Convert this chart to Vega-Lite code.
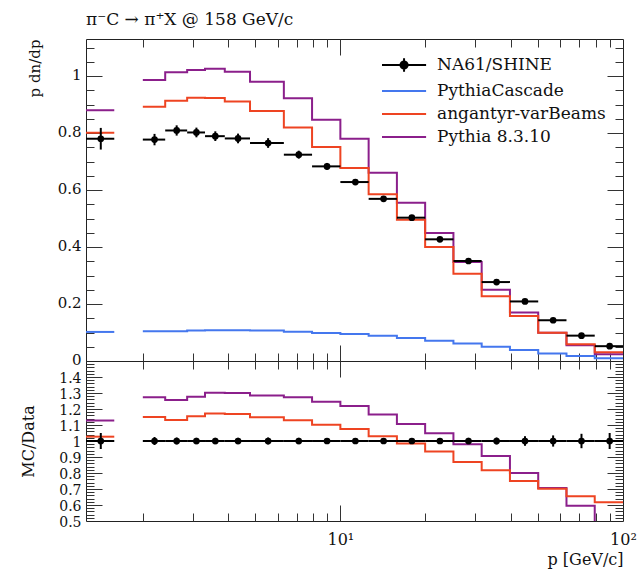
{
  "$schema": "https://vega.github.io/schema/vega-lite/v6.json",
  "padding": {"left": 19, "top": 10, "right": 2, "bottom": 2},
  "spacing": 0,
  "bounds": "flush",
  "config": {
    "font": "DejaVu Serif",
    "view": {"stroke": "#222", "strokeWidth": 1},
    "axis": {"domain": false, "grid": false, "labelFont": "DejaVu Serif", "labelFontSize": 15, "labelColor": "#111", "tickColor": "#333", "tickWidth": 1, "titleFont": "DejaVu Serif", "titleFontSize": 16, "titleFontWeight": "normal", "titleColor": "#111"},
    "legend": {
      "orient": "none", "legendX": 295, "legendY": 16, "title": null, "padding": 0,
      "labelFont": "DejaVu Serif", "labelFontSize": 17, "labelColor": "#111", "labelOffset": 36, "labelLimit": 400,
      "symbolSize": 324, "symbolStrokeWidth": 2, "rowPadding": 5, "symbolOpacity": 1
    }
  },
  "datasets": {
    "bins": [
      {"p": 1.42, "lo": 1.2589, "hi": 1.585, "v": 0.780, "vlo": 0.742, "vhi": 0.818, "r": 1, "rlo": 0.95, "rhi": 1.05},
      {"p": 2.2, "lo": 2.0, "hi": 2.4, "v": 0.777, "vlo": 0.757, "vhi": 0.797, "r": 1, "rlo": 0.975, "rhi": 1.025},
      {"p": 2.635, "lo": 2.4, "hi": 2.87, "v": 0.809, "vlo": 0.791, "vhi": 0.827, "r": 1, "rlo": 0.978, "rhi": 1.022},
      {"p": 3.095, "lo": 2.87, "hi": 3.32, "v": 0.802, "vlo": 0.785, "vhi": 0.819, "r": 1, "rlo": 0.98, "rhi": 1.02},
      {"p": 3.61, "lo": 3.32, "hi": 3.9, "v": 0.789, "vlo": 0.772, "vhi": 0.806, "r": 1, "rlo": 0.98, "rhi": 1.02},
      {"p": 4.345, "lo": 3.9, "hi": 4.79, "v": 0.781, "vlo": 0.764, "vhi": 0.798, "r": 1, "rlo": 0.98, "rhi": 1.02},
      {"p": 5.55, "lo": 4.79, "hi": 6.31, "v": 0.765, "vlo": 0.748, "vhi": 0.782, "r": 1, "rlo": 0.978, "rhi": 1.022},
      {"p": 7.125, "lo": 6.31, "hi": 7.94, "v": 0.724, "vlo": 0.710, "vhi": 0.738, "r": 1, "rlo": 0.98, "rhi": 1.02},
      {"p": 8.97, "lo": 7.94, "hi": 10, "v": 0.683, "vlo": 0.671, "vhi": 0.695, "r": 1, "rlo": 0.983, "rhi": 1.017},
      {"p": 11.3, "lo": 10, "hi": 12.59, "v": 0.628, "vlo": 0.618, "vhi": 0.638, "r": 1, "rlo": 0.984, "rhi": 1.016},
      {"p": 14.22, "lo": 12.59, "hi": 15.85, "v": 0.569, "vlo": 0.560, "vhi": 0.578, "r": 1, "rlo": 0.984, "rhi": 1.016},
      {"p": 17.9, "lo": 15.85, "hi": 19.95, "v": 0.503, "vlo": 0.495, "vhi": 0.511, "r": 1, "rlo": 0.984, "rhi": 1.016},
      {"p": 22.5, "lo": 19.95, "hi": 25.12, "v": 0.427, "vlo": 0.420, "vhi": 0.434, "r": 1, "rlo": 0.982, "rhi": 1.018},
      {"p": 28.4, "lo": 25.12, "hi": 31.62, "v": 0.351, "vlo": 0.345, "vhi": 0.357, "r": 1, "rlo": 0.98, "rhi": 1.02},
      {"p": 35.7, "lo": 31.62, "hi": 39.81, "v": 0.277, "vlo": 0.271, "vhi": 0.283, "r": 1, "rlo": 0.978, "rhi": 1.022},
      {"p": 45.0, "lo": 39.81, "hi": 50.12, "v": 0.209, "vlo": 0.203, "vhi": 0.215, "r": 1, "rlo": 0.97, "rhi": 1.03},
      {"p": 56.6, "lo": 50.12, "hi": 63.1, "v": 0.143, "vlo": 0.138, "vhi": 0.148, "r": 1, "rlo": 0.965, "rhi": 1.035},
      {"p": 71.3, "lo": 63.1, "hi": 79.43, "v": 0.089, "vlo": 0.085, "vhi": 0.093, "r": 1, "rlo": 0.955, "rhi": 1.045},
      {"p": 89.7, "lo": 79.43, "hi": 100, "v": 0.052, "vlo": 0.049, "vhi": 0.055, "r": 1, "rlo": 0.95, "rhi": 1.05}
    ],
    "mc": [
      {"s": "Pythia 8.3.10", "g": "a", "p": 1.2589, "v": 0.880, "r": 1.128},
      {"s": "Pythia 8.3.10", "g": "a", "p": 1.585, "v": 0.880, "r": 1.128},
      {"s": "Pythia 8.3.10", "g": "b", "p": 2.0, "v": 0.986, "r": 1.273},
      {"s": "Pythia 8.3.10", "g": "b", "p": 2.4, "v": 1.013, "r": 1.256},
      {"s": "Pythia 8.3.10", "g": "b", "p": 2.87, "v": 1.021, "r": 1.277},
      {"s": "Pythia 8.3.10", "g": "b", "p": 3.32, "v": 1.026, "r": 1.302},
      {"s": "Pythia 8.3.10", "g": "b", "p": 3.9, "v": 1.015, "r": 1.300},
      {"s": "Pythia 8.3.10", "g": "b", "p": 4.79, "v": 0.980, "r": 1.285},
      {"s": "Pythia 8.3.10", "g": "b", "p": 6.31, "v": 0.922, "r": 1.273},
      {"s": "Pythia 8.3.10", "g": "b", "p": 7.94, "v": 0.847, "r": 1.246},
      {"s": "Pythia 8.3.10", "g": "b", "p": 10, "v": 0.780, "r": 1.219},
      {"s": "Pythia 8.3.10", "g": "b", "p": 12.59, "v": 0.661, "r": 1.165},
      {"s": "Pythia 8.3.10", "g": "b", "p": 15.85, "v": 0.555, "r": 1.106},
      {"s": "Pythia 8.3.10", "g": "b", "p": 19.95, "v": 0.449, "r": 1.048},
      {"s": "Pythia 8.3.10", "g": "b", "p": 25.12, "v": 0.347, "r": 0.979},
      {"s": "Pythia 8.3.10", "g": "b", "p": 31.62, "v": 0.250, "r": 0.906},
      {"s": "Pythia 8.3.10", "g": "b", "p": 39.81, "v": 0.170, "r": 0.800},
      {"s": "Pythia 8.3.10", "g": "b", "p": 50.12, "v": 0.099, "r": 0.706},
      {"s": "Pythia 8.3.10", "g": "b", "p": 63.1, "v": 0.055, "r": 0.596},
      {"s": "Pythia 8.3.10", "g": "b", "p": 79.43, "v": 0.0235, "r": 0.45},
      {"s": "Pythia 8.3.10", "g": "b", "p": 100, "v": 0.0235, "r": 0.45},
      {"s": "angantyr-varBeams", "g": "a", "p": 1.2589, "v": 0.801, "r": 1.027},
      {"s": "angantyr-varBeams", "g": "a", "p": 1.585, "v": 0.801, "r": 1.027},
      {"s": "angantyr-varBeams", "g": "b", "p": 2.0, "v": 0.892, "r": 1.150},
      {"s": "angantyr-varBeams", "g": "b", "p": 2.4, "v": 0.913, "r": 1.131},
      {"s": "angantyr-varBeams", "g": "b", "p": 2.87, "v": 0.924, "r": 1.155},
      {"s": "angantyr-varBeams", "g": "b", "p": 3.32, "v": 0.923, "r": 1.172},
      {"s": "angantyr-varBeams", "g": "b", "p": 3.9, "v": 0.911, "r": 1.168},
      {"s": "angantyr-varBeams", "g": "b", "p": 4.79, "v": 0.877, "r": 1.148},
      {"s": "angantyr-varBeams", "g": "b", "p": 6.31, "v": 0.819, "r": 1.130},
      {"s": "angantyr-varBeams", "g": "b", "p": 7.94, "v": 0.751, "r": 1.102},
      {"s": "angantyr-varBeams", "g": "b", "p": 10, "v": 0.677, "r": 1.075},
      {"s": "angantyr-varBeams", "g": "b", "p": 12.59, "v": 0.585, "r": 1.029},
      {"s": "angantyr-varBeams", "g": "b", "p": 15.85, "v": 0.496, "r": 0.985},
      {"s": "angantyr-varBeams", "g": "b", "p": 19.95, "v": 0.400, "r": 0.935},
      {"s": "angantyr-varBeams", "g": "b", "p": 25.12, "v": 0.306, "r": 0.869},
      {"s": "angantyr-varBeams", "g": "b", "p": 31.62, "v": 0.227, "r": 0.817},
      {"s": "angantyr-varBeams", "g": "b", "p": 39.81, "v": 0.158, "r": 0.750},
      {"s": "angantyr-varBeams", "g": "b", "p": 50.12, "v": 0.099, "r": 0.702},
      {"s": "angantyr-varBeams", "g": "b", "p": 63.1, "v": 0.0585, "r": 0.654},
      {"s": "angantyr-varBeams", "g": "b", "p": 79.43, "v": 0.0305, "r": 0.617},
      {"s": "angantyr-varBeams", "g": "b", "p": 100, "v": 0.0305, "r": 0.617},
      {"s": "PythiaCascade", "g": "a", "p": 1.2589, "v": 0.102},
      {"s": "PythiaCascade", "g": "a", "p": 1.585, "v": 0.102},
      {"s": "PythiaCascade", "g": "b", "p": 2.0, "v": 0.104},
      {"s": "PythiaCascade", "g": "b", "p": 2.4, "v": 0.104},
      {"s": "PythiaCascade", "g": "b", "p": 2.87, "v": 0.107},
      {"s": "PythiaCascade", "g": "b", "p": 3.32, "v": 0.108},
      {"s": "PythiaCascade", "g": "b", "p": 3.9, "v": 0.108},
      {"s": "PythiaCascade", "g": "b", "p": 4.79, "v": 0.107},
      {"s": "PythiaCascade", "g": "b", "p": 6.31, "v": 0.103},
      {"s": "PythiaCascade", "g": "b", "p": 7.94, "v": 0.098},
      {"s": "PythiaCascade", "g": "b", "p": 10, "v": 0.095},
      {"s": "PythiaCascade", "g": "b", "p": 12.59, "v": 0.089},
      {"s": "PythiaCascade", "g": "b", "p": 15.85, "v": 0.081},
      {"s": "PythiaCascade", "g": "b", "p": 19.95, "v": 0.071},
      {"s": "PythiaCascade", "g": "b", "p": 25.12, "v": 0.061},
      {"s": "PythiaCascade", "g": "b", "p": 31.62, "v": 0.050},
      {"s": "PythiaCascade", "g": "b", "p": 39.81, "v": 0.039},
      {"s": "PythiaCascade", "g": "b", "p": 50.12, "v": 0.026},
      {"s": "PythiaCascade", "g": "b", "p": 63.1, "v": 0.0175},
      {"s": "PythiaCascade", "g": "b", "p": 79.43, "v": 0.0095},
      {"s": "PythiaCascade", "g": "b", "p": 100, "v": 0.0095}
    ]
  },
  "vconcat": [
    {
      "width": 537,
      "height": 322,
      "title": {"text": "π⁻C → π⁺X @ 158 GeV/c", "anchor": "start", "frame": "group", "font": "DejaVu Serif", "fontSize": 17, "fontWeight": "normal", "color": "#111", "baseline": "alphabetic", "offset": -3},
      "resolve": {"axis": {"x": "independent", "y": "independent"}},
      "layer": [
        {
          "data": {"name": "mc"},
          "mark": {"type": "line", "interpolate": "step-after", "strokeWidth": 2},
          "encoding": {
            "x": {"field": "p", "type": "quantitative", "scale": {"type": "log", "domain": [1.2589, 100], "nice": false}, "axis": {"orient": "bottom", "values": [10], "tickSize": -16, "labels": false, "title": null}},
            "y": {"field": "v", "type": "quantitative", "scale": {"domain": [0, 1.13], "nice": false, "zero": false}, "axis": {"orient": "left", "values": [0, 0.2, 0.4, 0.6, 0.8, 1], "tickSize": -16, "labels": false, "title": null}},
            "color": {"field": "s", "type": "nominal", "scale": {"domain": ["NA61/SHINE", "PythiaCascade", "angantyr-varBeams", "Pythia 8.3.10"], "range": ["black", "#4477EE", "#EE4422", "#8B1F8B"]}, "legend": null},
            "detail": {"field": "g"}
          }
        },
        {
          "data": {"name": "bins"},
          "mark": {"type": "rule", "strokeWidth": 2, "color": "black"},
          "encoding": {
            "x": {"field": "lo", "type": "quantitative", "axis": {"orient": "bottom", "values": [2, 3, 4, 5, 6, 7, 8, 9, 20, 30, 40, 50, 60, 70, 80, 90], "tickSize": -8, "labels": false, "title": null}},
            "x2": {"field": "hi"},
            "y": {"field": "v", "type": "quantitative", "axis": {"orient": "left", "values": [0.05, 0.1, 0.15, 0.25, 0.3, 0.35, 0.45, 0.5, 0.55, 0.65, 0.7, 0.75, 0.85, 0.9, 0.95, 1.05, 1.1], "tickSize": -8, "labels": false, "title": null}}
          }
        },
        {
          "data": {"name": "bins"},
          "mark": {"type": "rule", "strokeWidth": 2, "color": "black"},
          "encoding": {
            "x": {"field": "p", "type": "quantitative", "axis": {"orient": "top", "values": [10], "tickSize": -16, "labels": false, "title": null}},
            "y": {"field": "vlo", "type": "quantitative", "axis": {"orient": "right", "values": [0, 0.2, 0.4, 0.6, 0.8, 1], "tickSize": -16, "labels": false, "title": null}},
            "y2": {"field": "vhi"}
          }
        },
        {
          "data": {"name": "bins"},
          "mark": {"type": "circle", "size": 45, "color": "black", "opacity": 1},
          "encoding": {
            "x": {"field": "p", "type": "quantitative", "axis": {"orient": "top", "values": [2, 3, 4, 5, 6, 7, 8, 9, 20, 30, 40, 50, 60, 70, 80, 90], "tickSize": -8, "labels": false, "title": null}},
            "y": {"field": "v", "type": "quantitative", "axis": {"orient": "right", "values": [0.05, 0.1, 0.15, 0.25, 0.3, 0.35, 0.45, 0.5, 0.55, 0.65, 0.7, 0.75, 0.85, 0.9, 0.95, 1.05, 1.1], "tickSize": -8, "labels": false, "title": null}}
          }
        },
        {
          "data": {"name": "bins"},
          "transform": [{"filter": "false"}],
          "mark": {"type": "point", "filled": false},
          "encoding": {
            "x": {"field": "p", "type": "quantitative", "axis": null},
            "y": {"field": "v", "type": "quantitative", "axis": {"orient": "left", "values": [0, 0.2, 0.4, 0.6, 0.8, 1], "ticks": false, "labelPadding": 5, "labelFontSize": 15, "labelOffset": -2, "format": "~g", "labelOverlap": false, "title": "p dn/dp", "titleFontSize": 15, "titleAngle": 270, "titleAlign": "right", "titleBaseline": "alphabetic", "titleX": -47, "titleY": 0}},
            "color": {"field": "s", "type": "nominal"},
            "stroke": {
              "field": "s", "type": "nominal",
              "scale": {"domain": ["NA61/SHINE", "PythiaCascade", "angantyr-varBeams", "Pythia 8.3.10"], "range": ["black", "#4477EE", "#EE4422", "#8B1F8B"]}
            },
            "shape": {
              "field": "s", "type": "nominal",
              "scale": {"domain": ["NA61/SHINE", "PythiaCascade", "angantyr-varBeams", "Pythia 8.3.10"], "range": ["M-1,0H3.9M1.45,-0.75V0.75M1.85,0A0.4,0.4,0,1,1,1.05,0A0.4,0.4,0,1,1,1.85,0Z", "M-1,0H3.9", "M-1,0H3.9", "M-1,0H3.9"]}
            },
            "fill": {
              "field": "s", "type": "nominal",
              "scale": {"domain": ["NA61/SHINE", "PythiaCascade", "angantyr-varBeams", "Pythia 8.3.10"], "range": ["black", "transparent", "transparent", "transparent"]}
            }
          }
        }
      ]
    },
    {
      "width": 537,
      "height": 160,
      "resolve": {"axis": {"x": "independent", "y": "independent"}},
      "layer": [
        {
          "data": {"name": "mc"},
          "transform": [{"filter": "isValid(datum.r)"}],
          "mark": {"type": "line", "interpolate": "step-after", "strokeWidth": 2, "clip": true},
          "encoding": {
            "x": {"field": "p", "type": "quantitative", "scale": {"type": "log", "domain": [1.2589, 100], "nice": false}, "axis": {"orient": "bottom", "values": [10], "tickSize": -16, "labels": false, "title": null}},
            "y": {"field": "r", "type": "quantitative", "scale": {"domain": [0.5, 1.5], "nice": false, "zero": false}, "axis": {"orient": "left", "values": [0.6, 0.7, 0.8, 0.9, 1, 1.1, 1.2, 1.3, 1.4], "tickSize": -16, "labels": false, "title": null}},
            "color": {"field": "s", "type": "nominal", "scale": {"domain": ["PythiaCascade", "angantyr-varBeams", "Pythia 8.3.10"], "range": ["#4477EE", "#EE4422", "#8B1F8B"]}, "legend": null},
            "detail": {"field": "g"}
          }
        },
        {
          "data": {"name": "bins"},
          "mark": {"type": "rule", "strokeWidth": 2, "color": "black"},
          "encoding": {
            "x": {"field": "lo", "type": "quantitative", "axis": {"orient": "bottom", "values": [2, 3, 4, 5, 6, 7, 8, 9, 20, 30, 40, 50, 60, 70, 80, 90], "tickSize": -8, "labels": false, "title": null}},
            "x2": {"field": "hi"},
            "y": {"field": "r", "type": "quantitative", "axis": {"orient": "left", "values": [0.52, 0.54, 0.56, 0.58, 0.62, 0.64, 0.66, 0.68, 0.72, 0.74, 0.76, 0.78, 0.82, 0.84, 0.86, 0.88, 0.92, 0.94, 0.96, 0.98, 1.02, 1.04, 1.06, 1.08, 1.12, 1.14, 1.16, 1.18, 1.22, 1.24, 1.26, 1.28, 1.32, 1.34, 1.36, 1.38, 1.42, 1.44, 1.46, 1.48], "tickSize": -8, "labels": false, "title": null}}
          }
        },
        {
          "data": {"name": "bins"},
          "mark": {"type": "rule", "strokeWidth": 2, "color": "black"},
          "encoding": {
            "x": {"field": "p", "type": "quantitative", "axis": {"orient": "top", "values": [10], "tickSize": -16, "labels": false, "title": null}},
            "y": {"field": "rlo", "type": "quantitative", "axis": {"orient": "right", "values": [0.6, 0.7, 0.8, 0.9, 1, 1.1, 1.2, 1.3, 1.4], "tickSize": -16, "labels": false, "title": null}},
            "y2": {"field": "rhi"}
          }
        },
        {
          "data": {"name": "bins"},
          "mark": {"type": "circle", "size": 45, "color": "black", "opacity": 1},
          "encoding": {
            "x": {"field": "p", "type": "quantitative", "axis": {"orient": "top", "values": [2, 3, 4, 5, 6, 7, 8, 9, 20, 30, 40, 50, 60, 70, 80, 90], "tickSize": -8, "labels": false, "title": null}},
            "y": {"field": "r", "type": "quantitative", "axis": {"orient": "right", "values": [0.52, 0.54, 0.56, 0.58, 0.62, 0.64, 0.66, 0.68, 0.72, 0.74, 0.76, 0.78, 0.82, 0.84, 0.86, 0.88, 0.92, 0.94, 0.96, 0.98, 1.02, 1.04, 1.06, 1.08, 1.12, 1.14, 1.16, 1.18, 1.22, 1.24, 1.26, 1.28, 1.32, 1.34, 1.36, 1.38, 1.42, 1.44, 1.46, 1.48], "tickSize": -8, "labels": false, "title": null}}
          }
        },
        {
          "data": {"name": "bins"},
          "transform": [{"filter": "false"}],
          "mark": {"type": "point"},
          "encoding": {
            "x": {"field": "p", "type": "quantitative", "axis": {"orient": "bottom", "values": [10, 100], "ticks": false, "labelExpr": "datum.value == 10 ? '10¹' : '10²'", "labelPadding": 23, "labelFontSize": 16, "labelBaseline": "alphabetic", "labelFlush": false, "labelOverlap": false, "labelBound": false, "title": "p [GeV/c]", "titleAnchor": "end", "titleAlign": "right", "titleBaseline": "alphabetic", "titleX": 537, "titleY": 43}},
            "y": {"field": "r", "type": "quantitative", "axis": {"orient": "left", "values": [0.5, 0.6, 0.7, 0.8, 0.9, 1, 1.1, 1.2, 1.3, 1.4], "ticks": false, "labelPadding": 5, "labelFontSize": 14, "labelOffset": 1, "format": "~g", "labelOverlap": false, "title": "MC/Data", "titleAngle": 270, "titleAlign": "center", "titleBaseline": "alphabetic", "titleX": -53, "titleY": 80}}
          }
        }
      ]
    }
  ]
}
